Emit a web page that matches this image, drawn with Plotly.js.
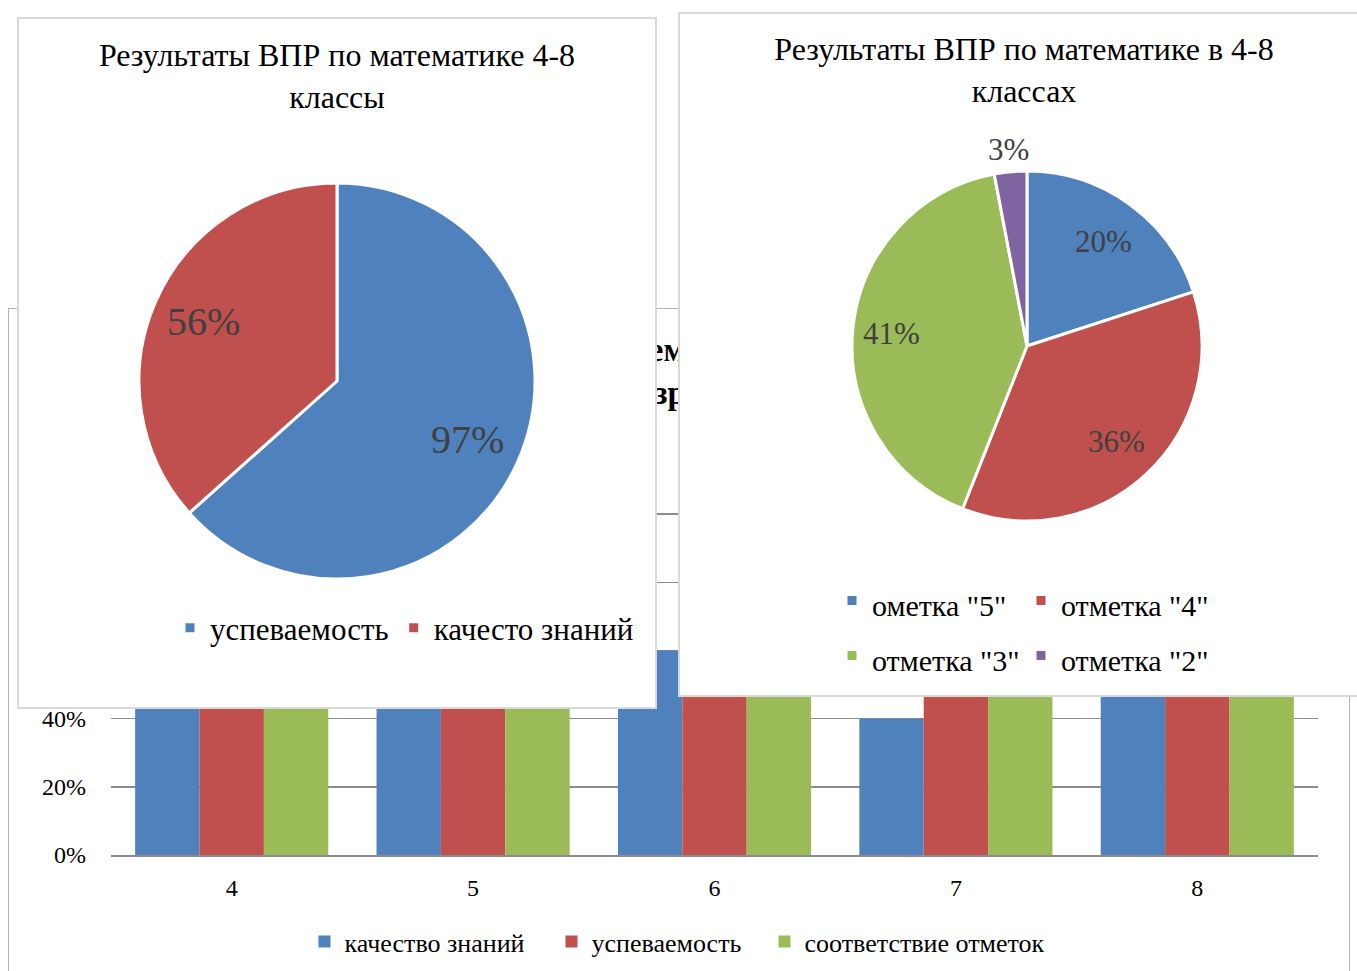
<!DOCTYPE html>
<html>
<head>
<meta charset="utf-8">
<script src="https://cdn.plot.ly/plotly-3.0.1.min.js"></script>
<style>
  html, body { margin:0; padding:0; background:#fff; width:1357px; height:971px; overflow:hidden; position:relative; }
  #bar { position:absolute; left:8px; top:308px; width:1342px; height:670px; box-sizing:border-box; border:1.5px solid #b3b3b3; background:#fff; }
  #pie1 { position:absolute; left:17px; top:17px; width:640px; height:692px; box-sizing:border-box; border:2px solid #d9d9d9; background:#fff; }
  #pie2 { position:absolute; left:678px; top:12px; width:690px; height:685px; box-sizing:border-box; border:2px solid #d9d9d9; background:#fff; }
</style>
</head>
<body>
<div id="bar"></div>
<div id="pie1"></div>
<div id="pie2"></div>
<script>
// ---- Bar chart data (classes 4-8) ----
const classes = ['4', '5', '6', '7', '8'];
const qualityValues = [0.62, 0.55, 0.60, 0.40, 0.58];     // качество знаний
const progressValues = [1.00, 0.97, 0.95, 0.96, 0.97];    // успеваемость
const matchValues = [0.80, 0.72, 0.76, 0.74, 0.78];       // соответствие отметок
const barSeriesNames = ['качество знаний', 'успеваемость', 'соответствие отметок'];
const yTickValues = [0, 0.2, 0.4, 0.6, 0.8, 1.0, 1.2];
const barTitleLines = ['Результаты ВПР по математике в 4-8 классах (в %)', 'по показателям — в разрезе классов и критериев'];

// ---- Left pie ----
const pie1Labels = ['успеваемость', 'качесто знаний'];
const pie1Values = [97, 56];
const pie1TitleLines = ['Результаты ВПР по математике 4-8', 'классы'];

// ---- Right pie ----
const pie2Labels = ['ометка "5"', 'отметка "4"', 'отметка "3"', 'отметка "2"'];
const pie2Values = [20, 36, 41, 3];
const pie2TitleLines = ['Результаты ВПР по математике в 4-8', 'классах'];

const FONT = 'Liberation Serif, Times New Roman, serif';
const BLUE = '#4F81BD', RED = '#C0504D', GREEN = '#9BBB59', PURPLE = '#8064A2';
const LABEL_GREY = '#404040';

// Slice labels placed along each slice's mid-angle (clockwise from 12 o'clock),
// computed from the values and the pie's domain.
function sliceLabels(values, dom, plotW, plotH, rFactors, fontSize) {
  const total = values.reduce((a, b) => a + b, 0);
  const cx = (dom.x[0] + dom.x[1]) / 2, cy = (dom.y[0] + dom.y[1]) / 2;
  const R = Math.min((dom.x[1] - dom.x[0]) * plotW, (dom.y[1] - dom.y[0]) * plotH) / 2;
  let cum = 0;
  return values.map((v, i) => {
    const mid = (cum + v / 2) / total * 2 * Math.PI;
    cum += v;
    const r = R * rFactors[i];
    return {
      xref: 'paper', yref: 'paper', showarrow: false,
      x: cx + r * Math.sin(mid) / plotW, y: cy + r * Math.cos(mid) / plotH,
      xanchor: 'center', yanchor: 'middle',
      text: v + '%', font: { family: FONT, size: fontSize, color: LABEL_GREY }
    };
  });
}

// ===== Bar chart =====
const barW = 1339, barH = 667;
const barColors = [BLUE, RED, GREEN];
const barLegendIds = ['legend', 'legend2', 'legend3'];
const barLegendLeft = [295.5, 542.5, 755.5];
const barData = [qualityValues, progressValues, matchValues].map((vals, i) => ({
  type: 'bar', x: classes, y: vals, name: barSeriesNames[i], legend: barLegendIds[i],
  marker: { color: barColors[i], line: { width: 0 } }, hoverinfo: 'skip'
}));
const barLayout = {
  width: barW, height: barH,
  margin: { l: 102, r: 30, t: 137, b: 121 },
  paper_bgcolor: '#fff', plot_bgcolor: '#fff',
  font: { family: FONT, color: '#000' },
  barmode: 'group', bargap: 0.2, bargroupgap: 0,
  title: { text: '<b>' + barTitleLines.join('<br>') + '</b>', font: { family: FONT, size: 33, color: '#000' },
           x: 0.5, xanchor: 'center', y: 1 - 52/barH, yanchor: 'top', yref: 'container' },
  xaxis: { type: 'category', showgrid: false, showline: true, linecolor: '#8c8c8c', linewidth: 2,
           ticks: '', tickfont: { family: FONT, size: 24, color: '#000' }, ticklabelstandoff: 10, zeroline: false },
  yaxis: { range: [0, 1.2], tickvals: yTickValues, tickformat: '.0%', showgrid: true, gridcolor: '#8c8c8c', gridwidth: 1.5,
           zeroline: false, showline: false, ticks: '', tickfont: { family: FONT, size: 24, color: '#000' }, ticklabelstandoff: 24 },
  showlegend: true
};
barLegendIds.forEach((id, i) => {
  barLayout[id] = { orientation: 'h', xref: 'container', yref: 'container', x: barLegendLeft[i]/barW, xanchor: 'left',
                    y: 1 - 632.5/barH, yanchor: 'middle', font: { family: FONT, size: 26, color: '#000' }, itemwidth: 30 };
});
Plotly.newPlot('bar', barData, barLayout, { staticPlot: true });

// ===== Left pie =====
const pie1W = 636, pie1H = 688;
const pie1Domain = { x: [(318-198)/pie1W, (318+198)/pie1W], y: [1 - 560/pie1H, 1 - 164/pie1H] };
Plotly.newPlot('pie1', [{
  type: 'pie', labels: pie1Labels, values: pie1Values, sort: false, direction: 'clockwise', rotation: 0,
  marker: { colors: [BLUE, RED], line: { color: '#fff', width: 3 } },
  textinfo: 'none', domain: pie1Domain, hoverinfo: 'skip'
}], {
  width: pie1W, height: pie1H,
  margin: { l: 0, r: 0, t: 0, b: 0 },
  paper_bgcolor: '#fff',
  font: { family: FONT, color: '#000' },
  title: { text: pie1TitleLines.join('<br>'), font: { family: FONT, size: 32, color: '#000' },
           x: 0.5, xanchor: 'center', y: 1 - 47/pie1H, yanchor: 'top', yref: 'container' },
  legend: { orientation: 'h', x: 151/pie1W, xanchor: 'left', y: 1 - 609/pie1H, yanchor: 'middle',
            font: { family: FONT, size: 31, color: '#000' }, itemwidth: 30 },
  annotations: sliceLabels(pie1Values, pie1Domain, pie1W, pie1H, [0.72, 0.74], 40),
  showlegend: true
}, { staticPlot: true });

// ===== Right pie =====
const pie2W = 686, pie2H = 681, pie2ML = 114, pie2MR = 114;
const pie2PlotW = pie2W - pie2ML - pie2MR;
const pie2Domain = { x: [(233-175)/pie2PlotW, (233+175)/pie2PlotW], y: [1 - 507/pie2H, 1 - 157/pie2H] };
const pie2LegendLabels = pie2Labels.map(s => '<span style="font-size:30px">' + s + '</span>');
Plotly.newPlot('pie2', [{
  type: 'pie', labels: pie2LegendLabels, values: pie2Values, sort: false, direction: 'clockwise', rotation: 0,
  marker: { colors: [BLUE, RED, GREEN, PURPLE], line: { color: '#fff', width: 3 } },
  textinfo: 'none', domain: pie2Domain, hoverinfo: 'skip'
}], {
  width: pie2W, height: pie2H,
  margin: { l: pie2ML, r: pie2MR, t: 0, b: 0 },
  paper_bgcolor: '#fff',
  font: { family: FONT, color: '#000' },
  title: { text: pie2TitleLines.join('<br>'), font: { family: FONT, size: 32, color: '#000' },
           x: 344/pie2W, xanchor: 'center', y: 1 - 46/pie2H, yanchor: 'top', yref: 'container' },
  legend: { orientation: 'h', x: (152 - pie2ML)/pie2PlotW, xanchor: 'left', y: 1 - 614/pie2H, yanchor: 'middle',
            font: { family: FONT, size: 40, color: '#000' }, itemwidth: 30, entrywidth: 144, entrywidthmode: 'pixels' },
  annotations: sliceLabels(pie2Values, pie2Domain, pie2PlotW, pie2H, [0.74, 0.75, 0.78, 1.13], 31),
  showlegend: true
}, { staticPlot: true });
</script>
</body>
</html>
